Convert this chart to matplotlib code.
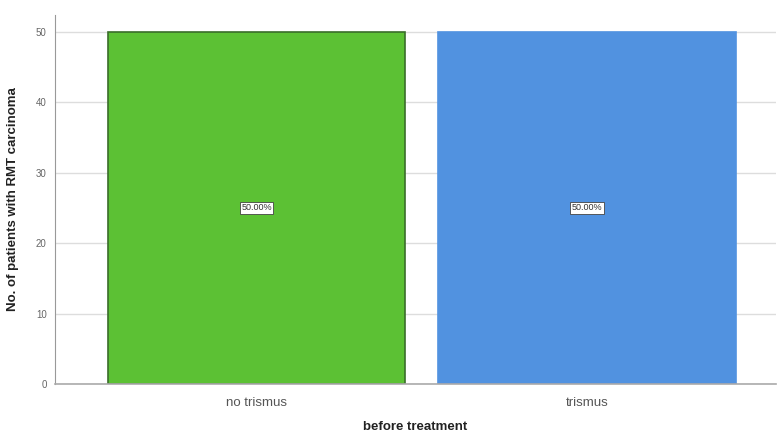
import matplotlib.pyplot as plt

plt.rcParams['font.family'] = ['Liberation Sans', 'DejaVu Sans']

categories = ['no trismus', 'trismus']
counts = [50, 50]
pct_labels = ['50.00%', '50.00%']
colors = ['#5cc134', '#5192e0']
edges = ['#3a6e2a', '#5192e0']

fig = plt.figure(figsize=(7.79, 4.36), dpi=100)
ax = fig.add_axes([0.0706, 0.119, 0.925, 0.847])

x = range(len(categories))
ax.bar(x, counts, width=0.9, color=colors, edgecolor=edges, linewidth=1.2, zorder=2)
for xi, c, lab in zip(x, counts, pct_labels):
    ax.text(xi, c / 2, lab, ha='center', va='center', fontsize=6.5, color='#333333',
            bbox=dict(boxstyle='square,pad=0.15', fc='white', ec='#444444', lw=0.6), zorder=3)

ax.set_xlim(-0.61, 1.57)
ax.set_ylim(0, 52.4)
ax.set_yticks([0, 10, 20, 30, 40, 50])
ax.set_xticks(list(x))
ax.set_xticklabels(categories, fontsize=9.5, color='#555555')
ax.tick_params(axis='y', labelsize=7, colors='#666666', length=0, pad=6)
ax.tick_params(axis='x', length=0, pad=9)
ax.yaxis.grid(True, color='#dddddd', linewidth=1, zorder=0)
ax.set_axisbelow(True)
for s in ['top', 'right']:
    ax.spines[s].set_visible(False)
ax.spines['left'].set_color('#999999')
ax.spines['bottom'].set_color('#aaaaaa')
ax.spines['bottom'].set_linewidth(1.2)

ax.set_xlabel('before treatment', fontsize=9.5, fontweight='bold', color='#222222', labelpad=9)
ax.set_ylabel('No. of patients with RMT carcinoma', fontsize=9.5, fontweight='bold', color='#222222', labelpad=12)

fig.savefig('out.png', dpi=100)
